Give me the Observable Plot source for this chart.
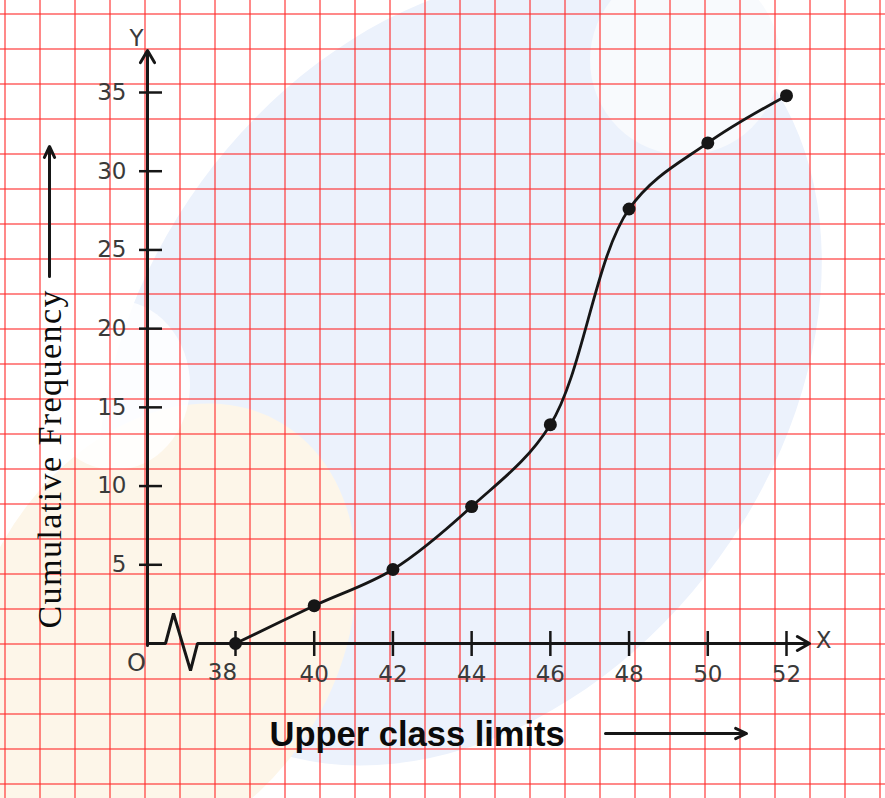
<!DOCTYPE html>
<html>
<head>
<meta charset="utf-8">
<script src="https://cdn.jsdelivr.net/npm/d3@7"></script>
<script src="https://cdn.jsdelivr.net/npm/@observablehq/plot@0.6"></script>
<style>
html, body { margin: 0; padding: 0; background: #fff; }
#chart { position: relative; width: 885px; height: 798px; overflow: hidden; background: #fff; }
#chart .wm { position: absolute; border-radius: 50%; }
#chart .grid {
  position: absolute; left: 0; top: 0; width: 885px; height: 798px;
  background-image:
    linear-gradient(to right, rgba(255,40,40,0.55) 0, rgba(255,40,40,0.55) 2px, transparent 2px),
    linear-gradient(to bottom, rgba(255,40,40,0.55) 0, rgba(255,40,40,0.55) 2px, transparent 2px);
  background-size: 35px 35px, 35px 35px;
  background-position: 4px 0, 0 13px;
}
#chart svg { position: absolute; left: 0; top: 0; }
</style>
</head>
<body>
<div id="chart">
  <div class="wm" style="left:140px;top:-60px;width:640px;height:860px;background:#ecf2fc;transform:rotate(36deg);"></div>
  <div class="wm" style="left:-20px;top:390px;width:360px;height:480px;background:#fdf6e9;transform:rotate(30deg);"></div>
  <div class="wm" style="left:40px;top:300px;width:150px;height:170px;background:#ffffff;opacity:0.85;"></div>
  <div class="wm" style="left:590px;top:-35px;width:190px;height:190px;background:#f8fafd;"></div>
  <div class="grid"></div>
</div>
<script>
// ---- data ----
const upperLimits = [38, 40, 42, 44, 46, 48, 50, 52];
const cumulativeFrequency = [0, 2.4, 4.7, 8.7, 13.9, 27.6, 31.8, 34.8];
const xTickValues = [38, 40, 42, 44, 46, 48, 50, 52];
const xTickLabels = ["38", "40", "42", "44", "46", "48", "50", "52"];
const yTickValues = [5, 10, 15, 20, 25, 30, 35];
const yTickLabels = ["5", "10", "15", "20", "25", "30", "35"];
const xTitle = "Upper class limits";
const yTitle = "Cumulative Frequency";

// ---- layout ----
const W = 885, H = 798;
const xDomain = [38, 52], xRange = [235, 786];
const yDomain = [0, 35], yRange = [643, 92];
const px = p => xDomain[0] + (p - xRange[0]) * (xDomain[1] - xDomain[0]) / (xRange[1] - xRange[0]);
const py = p => yDomain[0] + (p - yRange[0]) * (yDomain[1] - yDomain[0]) / (yRange[1] - yRange[0]);
const ink = "#161616";
const labelInk = "#3a3a3a";
const numFont = "DejaVu Sans, Verdana, sans-serif";

const points = upperLimits.map((x, i) => ({x, y: cumulativeFrequency[i]}));
// x-axis with the kink (broken axis) between O and 38
const axisPath = [[147, 643], [165, 643], [173, 613], [190, 670], [197, 643], [800, 643]]
  .map(([a, b]) => ({x: px(a), y: py(b)}));

const plot = Plot.plot({
  width: W, height: H,
  margin: 0,
  x: {domain: xDomain, range: xRange, axis: null},
  y: {domain: yDomain, range: yRange, axis: null},
  style: {background: "transparent", overflow: "visible"},
  marks: [
    // axes
    Plot.line(axisPath, {x: "x", y: "y", stroke: ink, strokeWidth: 3, strokeLinejoin: "miter"}),
    Plot.arrow([0], {x1: px(760), y1: 0, x2: px(809), y2: 0, stroke: ink, strokeWidth: 3, headLength: 7, headAngle: 60}),
    Plot.arrow([0], {x1: px(147), y1: py(645), x2: px(147), y2: py(50), stroke: ink, strokeWidth: 3, headLength: 7, headAngle: 60}),
    // ticks
    Plot.ruleY(yTickValues, {y: d => d, x1: px(139), x2: px(162), stroke: ink, strokeWidth: 2.5}),
    Plot.ruleX(xTickValues, {x: d => d, y1: py(656), y2: py(631), stroke: ink, strokeWidth: 2.5}),
    // tick labels
    Plot.text(yTickValues, {x: px(126), y: d => d, text: (d, i) => yTickLabels[i], textAnchor: "end",
      fontSize: 23, fill: labelInk, fontFamily: numFont}),
    Plot.text(xTickValues.slice(1), {x: d => d, y: py(674), text: (d, i) => xTickLabels[i + 1],
      fontSize: 23, fill: labelInk, fontFamily: numFont}),
    Plot.text(xTickValues.slice(0, 1), {x: d => d, y: py(672), dx: -13, text: (d, i) => xTickLabels[i],
      fontSize: 23, fill: labelInk, fontFamily: numFont}),
    // axis letters
    Plot.text(["Y"], {x: px(136), y: py(38), fontSize: 23, fill: labelInk, fontFamily: numFont}),
    Plot.text(["X"], {x: px(823), y: py(640), fontSize: 23, fill: labelInk, fontFamily: numFont}),
    Plot.text(["O"], {x: px(136), y: py(663), fontSize: 24, fill: labelInk, fontFamily: numFont}),
    // ogive
    Plot.line(points, {x: "x", y: "y", curve: "catmull-rom", stroke: ink, strokeWidth: 2.8}),
    Plot.dot(points, {x: "x", y: "y", r: 6.5, fill: ink, stroke: "none"}),
    // titles
    Plot.text([xTitle], {x: px(269), y: py(734), textAnchor: "start", fontSize: 34.5, fontWeight: "bold",
      fill: "#0b0b0b", fontFamily: "Liberation Sans, Arial, sans-serif"}),
    Plot.arrow([0], {x1: px(605), y1: py(733), x2: px(746), y2: py(733), stroke: ink, strokeWidth: 3, headLength: 6, headAngle: 50}),
    Plot.text([yTitle], {x: px(50), y: py(459), rotate: -90, fontSize: 34,
      fill: "#0b0b0b", fontFamily: "Liberation Serif, Times New Roman, serif"}),
    Plot.arrow([0], {x1: px(49), y1: py(276), x2: px(49), y2: py(146), stroke: ink, strokeWidth: 3, headLength: 6, headAngle: 50})
  ]
});

d3.select(plot).selectAll("text").each(function() {
  if (this.textContent === yTitle) {
    this.setAttribute("textLength", 338);
    this.setAttribute("lengthAdjust", "spacing");
  }
});

document.getElementById("chart").appendChild(plot);
</script>
</body>
</html>
